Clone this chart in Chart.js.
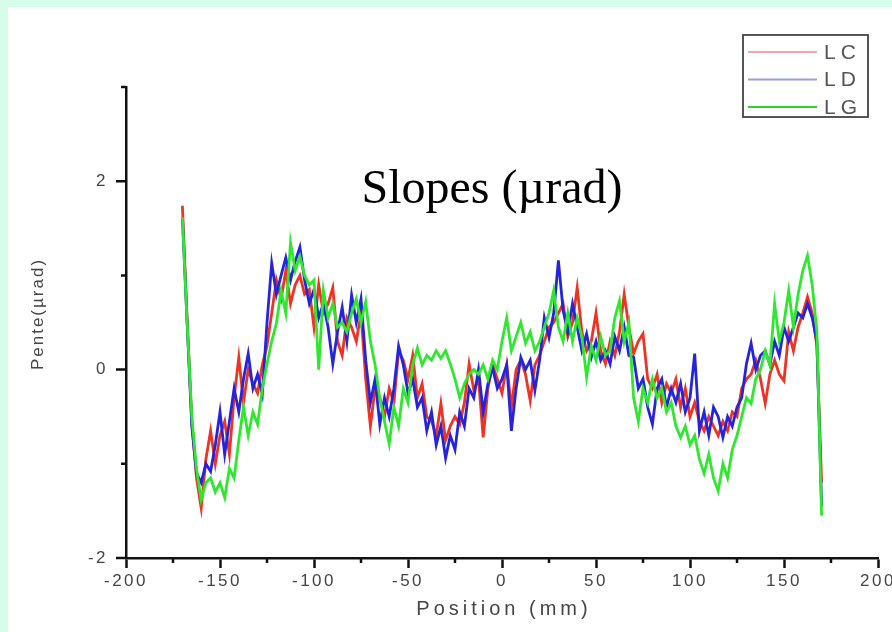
<!DOCTYPE html>
<html>
<head>
<meta charset="utf-8">
<title>Slopes</title>
<script src="https://cdn.jsdelivr.net/npm/chart.js@4.4.7/dist/chart.umd.min.js"></script>
<style>
  html, body { margin: 0; padding: 0; overflow: hidden; background: #d5fdea; width: 892px; height: 632px; }
  #panel { position: absolute; left: 8px; top: 7px; width: 904px; height: 625px; background: #fff; }
</style>
</head>
<body>
<div id="panel"><canvas id="slopes"></canvas></div>
<script>
// Position along the mirror (mm)
const POSITIONS = [
  -170, -167.5, -165, -162.5, -160, -157.5, -155, -152.5, -150, -147.5,
  -145, -142.5, -140, -137.5, -135, -132.5, -130, -127.5, -125, -122.5,
  -120, -117.5, -115, -112.5, -110, -107.5, -105, -102.5, -100, -97.5,
  -95, -92.5, -90, -87.5, -85, -82.5, -80, -77.5, -75, -72.5,
  -70, -67.5, -65, -62.5, -60, -57.5, -55, -52.5, -50, -47.5,
  -45, -42.5, -40, -37.5, -35, -32.5, -30, -27.5, -25, -22.5,
  -20, -17.5, -15, -12.5, -10, -7.5, -5, -2.5, 0, 2.5,
  5, 7.5, 10, 12.5, 15, 17.5, 20, 22.5, 25, 27.5,
  30, 32.5, 35, 37.5, 40, 42.5, 45, 47.5, 50, 52.5,
  55, 57.5, 60, 62.5, 65, 67.5, 70, 72.5, 75, 77.5,
  80, 82.5, 85, 87.5, 90, 92.5, 95, 97.5, 100, 102.5,
  105, 107.5, 110, 112.5, 115, 117.5, 120, 122.5, 125, 127.5,
  130, 132.5, 135, 137.5, 140, 142.5, 145, 147.5, 150, 152.5,
  155, 157.5, 160, 162.5, 165, 167.5, 170,
];

// Slope profiles (µrad)
const LC = [
  1.74, 0.55, -0.55, -1.15, -1.47, -0.95, -0.65, -1.0, -0.7, -0.55,
  -0.9, -0.3, 0.13, -0.35, 0.0, -0.15, -0.25, 0.05, 0.25, 0.6,
  0.95, 0.75, 1.05, 0.7, 0.9, 1.0, 0.8, 0.85, 0.45, 0.9,
  0.6, 0.7, 0.87, 0.3, 0.15, 0.55, 0.45, 0.3, 0.6, -0.1,
  -0.6, -0.2, -0.3, -0.5, -0.2, -0.35, 0.2, 0.1, -0.1, 0.15,
  -0.3, -0.15, -0.5, -0.55, -0.7, -0.36, -0.75, -0.6, -0.5, -0.58,
  -0.35, 0.06, -0.22, -0.1, -0.72, -0.2, 0.05, -0.1, -0.25, 0.05,
  -0.4, 0.0, 0.1, -0.05, -0.33, 0.05, 0.15, 0.3, 0.45, 0.5,
  0.6, 0.7, 0.35, 0.5, 0.87, 0.4, 0.2, 0.3, 0.6, 0.2,
  0.06, 0.3, 0.15, 0.4, 0.8, 0.45, 0.17, 0.3, 0.38, -0.1,
  -0.2, -0.05, -0.35, -0.15, -0.25, -0.1, -0.4, -0.2, -0.5, -0.35,
  -0.55, -0.65, -0.5, -0.6, -0.7, -0.55, -0.65, -0.45, -0.5, -0.2,
  -0.1, -0.05, 0.1, -0.1, -0.36, -0.05, 0.1, -0.05, -0.12, 0.4,
  0.2, 0.45, 0.6, 0.77, 0.6, 0.25, -1.2,
];
const LD = [
  1.62, 0.5, -0.6, -1.1, -1.2, -1.0, -1.08, -0.8, -0.45, -0.9,
  -0.55, -0.2, -0.45, -0.1, 0.17, -0.2, -0.05, -0.26, 0.5, 1.13,
  0.8, 1.0, 1.19, 0.95, 1.15, 1.3, 0.95, 0.7, 0.85, 0.55,
  0.7, 0.45, 0.06, 0.4, 0.66, 0.3, 0.79, 0.5, 0.75, 0.1,
  -0.35, -0.1, -0.58, -0.3, -0.5, -0.2, 0.25, 0.05, -0.25, -0.1,
  -0.4, -0.3, -0.65, -0.45, -0.8, -0.6, -0.94, -0.7, -0.85, -0.45,
  -0.6, -0.2, -0.3, 0.0, -0.45, -0.15, 0.02, -0.2, -0.1, 0.05,
  -0.65, -0.2, 0.13, 0.0, 0.1, -0.22, 0.1, 0.55, 0.34, 0.6,
  1.16, 0.63, 0.4, 0.7, 0.45, 0.2, 0.38, 0.13, 0.3, 0.1,
  0.2, 0.06, 0.35, 0.2, 0.45, 0.15, 0.13, -0.2, -0.1, -0.4,
  -0.58, -0.2, -0.1, -0.4, -0.2, -0.35, -0.15, -0.45, -0.3, 0.17,
  -0.65, -0.45, -0.7, -0.4, -0.5, -0.72, -0.5, -0.6, -0.4, -0.3,
  0.06, 0.28, 0.0, 0.15, 0.2, 0.05, 0.3, 0.15, 0.45, 0.3,
  0.45, 0.6, 0.55, 0.7, 0.55, 0.3, -1.45,
];
const LG = [
  1.62, 0.5, -0.5, -1.05, -1.38, -1.2, -1.15, -1.3, -1.2, -1.36,
  -1.05, -1.15, -0.75, -0.4, -0.7, -0.45, -0.58, -0.2, 0.06, 0.3,
  0.49, 0.84, 0.6, 1.35, 1.05, 1.2, 1.0, 0.9, 0.95, 0.0,
  0.84, 0.55, 0.7, 0.45, 0.5, 0.4, 0.6, 0.75, 0.5, 0.72,
  0.3, 0.05, -0.3, -0.55, -0.79, -0.4, -0.6, -0.2, -0.35, 0.05,
  0.23, 0.05, 0.15, 0.1, 0.2, 0.12, 0.2, 0.06, -0.1, -0.3,
  -0.15, -0.05, 0.0, -0.05, 0.05, -0.1, 0.1, 0.0, 0.3, 0.55,
  0.2, 0.35, 0.5, 0.28, 0.4, 0.2, 0.3, 0.45, 0.6, 0.84,
  0.45, 0.3, 0.6, 0.3, 0.55, 0.35, -0.08, 0.25, 0.1, 0.35,
  0.15, 0.2, 0.55, 0.73, 0.3, 0.5, -0.3, -0.55, -0.2, -0.35,
  -0.1, -0.3, -0.2, -0.45, -0.35, -0.6, -0.72, -0.6, -0.8, -0.7,
  -0.95, -1.1, -0.9, -1.15, -1.29, -1.0, -1.15, -0.85, -0.7, -0.5,
  -0.3, -0.36, -0.1, 0.0, 0.2, 0.05, 0.7, 0.3, 0.5, 0.84,
  0.45, 0.8, 1.05, 1.21, 0.9, 0.4, -1.55,
];

const SERIES_NAMES = ['LC', 'LD', 'LG'];
const X_MINOR = [-175, -125, -75, -25, 25, 75, 125, 175];
const Y_MAJOR = [-2, 0, 2];
const Y_MINOR = [-1, 1, 3];
const CHART_TITLE = 'Slopes (µrad)';
const X_TITLE = 'Position (mm)';
const Y_TITLE = 'Pente(µrad)';

const lineColors = ['#ee3322', '#2424dd', '#2ee82e'];
const legendColors = ['#f2a6a6', '#9c9ce8', '#30d030'];
const textGray = '#454545';
const axisColor = '#111';

// spaced-out lettering for the tick labels drawn by Chart.js
const spacing = {
  id: 'spacing',
  beforeDraw(chart) {
    chart.ctx.letterSpacing = '2.5px';
  },
};

// short minor ticks on x, and all ticks on the y axis
const axisTicks = {
  id: 'axisTicks',
  afterDraw(chart) {
    const { ctx, chartArea, scales } = chart;
    const { x, y } = scales;
    ctx.save();
    ctx.strokeStyle = axisColor;
    ctx.lineWidth = 2.5;
    ctx.beginPath();
    X_MINOR.forEach((v) => {
      const px = x.getPixelForValue(v);
      ctx.moveTo(px, chartArea.bottom);
      ctx.lineTo(px, chartArea.bottom + 5);
    });
    Y_MAJOR.forEach((v) => {
      const py = y.getPixelForValue(v);
      ctx.moveTo(chartArea.left, py);
      ctx.lineTo(chartArea.left - 10, py);
    });
    Y_MINOR.forEach((v) => {
      const py = y.getPixelForValue(v);
      ctx.moveTo(chartArea.left, py);
      ctx.lineTo(chartArea.left - 5, py);
    });
    ctx.stroke();
    ctx.restore();
  },
};

// axis titles, plot title and the boxed legend
const annotations = {
  id: 'annotations',
  afterDraw(chart) {
    const { ctx, chartArea } = chart;
    ctx.save();
    ctx.fillStyle = textGray;
    ctx.textAlign = 'center';
    ctx.textBaseline = 'middle';

    ctx.letterSpacing = '4px';
    ctx.font = '20px "Liberation Sans", Arial, sans-serif';
    ctx.fillText(X_TITLE, (chartArea.left + chartArea.right) / 2 + 2, 602);

    ctx.letterSpacing = '2px';
    ctx.font = '17px "Liberation Sans", Arial, sans-serif';
    ctx.translate(30, 307);
    ctx.rotate(-Math.PI / 2);
    ctx.fillText(Y_TITLE, 0, 0);
    ctx.setTransform(1, 0, 0, 1, 0, 0);

    ctx.letterSpacing = '0px';
    ctx.fillStyle = '#000';
    ctx.textBaseline = 'alphabetic';
    ctx.font = '48px "Liberation Serif", "Times New Roman", serif';
    ctx.fillText(CHART_TITLE, 484, 196);

    // legend box
    const bx = 735, by = 28, bw = 125, bh = 82;
    ctx.strokeStyle = '#555';
    ctx.lineWidth = 2;
    ctx.strokeRect(bx, by, bw, bh);
    ctx.textAlign = 'left';
    ctx.textBaseline = 'middle';
    ctx.letterSpacing = '5px';
    ctx.font = '21px "Liberation Sans", Arial, sans-serif';
    SERIES_NAMES.forEach((name, i) => {
      const ly = by + 17 + i * 27.5;
      ctx.strokeStyle = legendColors[i];
      ctx.lineWidth = 2;
      ctx.beginPath();
      ctx.moveTo(bx + 5, ly);
      ctx.lineTo(bx + 74, ly);
      ctx.stroke();
      ctx.fillStyle = '#555';
      ctx.fillText(name, bx + 81, ly + 1);
    });
    ctx.restore();
  },
};

const seriesData = [LC, LD, LG];

new Chart(document.getElementById('slopes'), {
  type: 'line',
  data: {
    labels: POSITIONS,
    datasets: SERIES_NAMES.map((name, i) => ({
      label: name,
      data: seriesData[i],
      borderColor: lineColors[i],
      borderWidth: 2.8,
      pointRadius: 0,
      tension: 0,
      order: 3 - i,
    })),
  },
  options: {
    responsive: true,
    maintainAspectRatio: false,
    animation: false,
    layout: { padding: { top: 80, right: 34, bottom: 0, left: 0 } },
    scales: {
      x: {
        type: 'linear',
        min: -200,
        max: 200,
        grid: {
          display: true,
          drawOnChartArea: false,
          drawTicks: true,
          tickLength: 10,
          tickWidth: 2.5,
          tickColor: axisColor,
        },
        border: { display: true, color: axisColor, width: 2.5 },
        ticks: {
          stepSize: 50,
          padding: 3,
          maxRotation: 0,
          color: textGray,
          font: { family: '"Liberation Sans", Arial, sans-serif', size: 17 },
        },
        afterFit(scale) { scale.height = 74; },
      },
      y: {
        min: -2,
        max: 3,
        grid: { display: false, drawTicks: false },
        border: { display: true, color: axisColor, width: 2.5 },
        ticks: {
          stepSize: 1,
          padding: 18,
          color: textGray,
          font: { family: '"Liberation Sans", Arial, sans-serif', size: 17 },
          callback: (v) => (Y_MAJOR.includes(v) ? v : ''),
        },
        afterFit(scale) { scale.width = 118; },
      },
    },
    plugins: {
      legend: { display: false },
      tooltip: { enabled: false },
    },
  },
  plugins: [spacing, axisTicks, annotations],
});
</script>
</body>
</html>
